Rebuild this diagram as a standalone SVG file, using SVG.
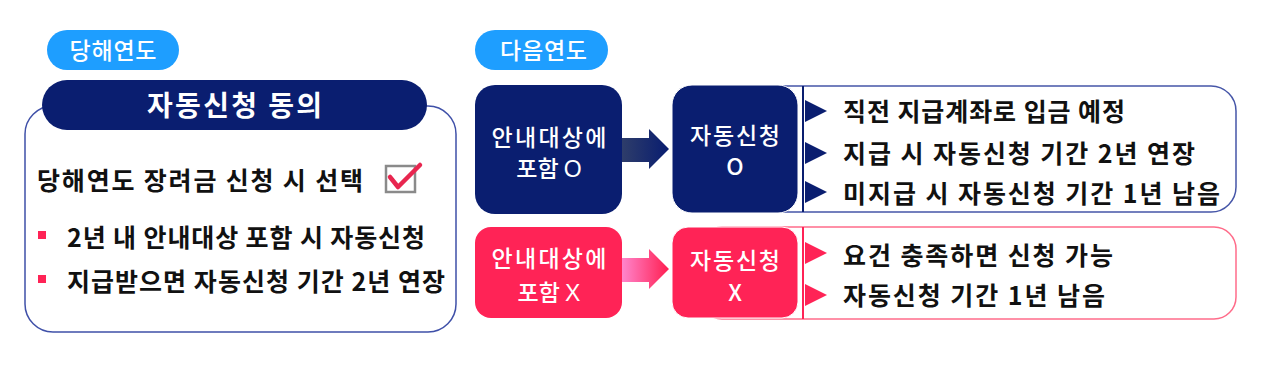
<svg xmlns="http://www.w3.org/2000/svg" width="1268" height="365" viewBox="0 0 1268 365">
<defs>
<style>
.t{font-family:"Noto Sans CJK KR","Noto Sans",sans-serif;}
.body{font-size:25px;font-weight:700;fill:#111;}
.wt{fill:#fff;font-size:23px;font-weight:500;text-anchor:middle;}
.pill{fill:#1E9EFF;}
.navy{fill:#0A1E70;}
.pink{fill:#FF2356;}
</style>
<linearGradient id="gN" x1="0" x2="1" y1="0" y2="0">
<stop offset="0" stop-color="#2E3D6A"/>
<stop offset="0.95" stop-color="#0A1E70"/>
</linearGradient>
<linearGradient id="gP" x1="0" x2="1" y1="0" y2="0">
<stop offset="0" stop-color="#FF85CC"/>
<stop offset="0.95" stop-color="#FF2356"/>
</linearGradient>
</defs>
<rect width="1268" height="365" fill="#fff"/>

<g id="left-label">
<rect class="pill" x="47" y="30" width="132" height="40" rx="20"/>
<text class="t wt" x="113" y="59" font-size="22" textLength="87">당해연도</text>
</g>

<g id="left-box">
<rect x="25" y="106" width="431" height="226" rx="28" fill="#fff" stroke="#3F50A8" stroke-width="1.5"/>
<rect class="navy" x="42" y="80" width="385" height="50" rx="25"/>
<text class="t" x="234.5" y="116" font-size="28" font-weight="700" fill="#fff" text-anchor="middle" textLength="175">자동신청 동의</text>
<text class="t body" x="37" y="190" textLength="326">당해연도  장려금 신청 시 선택</text>
<rect x="386" y="166" width="29" height="26" fill="none" stroke="#8A8A8A" stroke-width="2.5"/>
<polyline points="390,177 398,187 420,165" fill="none" stroke="#E8264F" stroke-width="4.5" stroke-linecap="round" stroke-linejoin="round"/>
<rect x="38" y="231" width="8" height="8" fill="#FF2356"/>
<text class="t body" x="67" y="247" textLength="358">2년 내 안내대상  포함 시 자동신청</text>
<rect x="38" y="275" width="8" height="8" fill="#FF2356"/>
<text class="t body" x="67" y="291" textLength="378">지급받으면  자동신청  기간 2년 연장</text>
</g>

<g id="right-label">
<rect class="pill" x="475" y="30" width="133" height="40" rx="20"/>
<text class="t wt" x="543.5" y="59" font-size="22" textLength="87">다음연도</text>
</g>

<g id="list-o">
<rect x="700" y="86" width="536" height="126" rx="25" fill="#fff" stroke="#4656A8" stroke-width="1.5"/>
<line x1="803" y1="86" x2="803" y2="212" stroke="#0A1E70" stroke-width="2"/>
<polygon class="navy" points="805,100 827,111 805,122"/>
<polygon class="navy" points="805,142 827,153 805,164"/>
<polygon class="navy" points="805,181 827,192 805,203"/>
<text class="t body" x="843" y="121" textLength="282">직전 지급계좌로  입금 예정</text>
<text class="t body" x="843" y="163" textLength="352">지급 시 자동신청  기간 2년 연장</text>
<text class="t body" x="843" y="203" textLength="377">미지급 시 자동신청  기간 1년 남음</text>
</g>

<g id="list-x">
<rect x="700" y="227" width="536" height="92" rx="22" fill="#fff" stroke="#FF6C8A" stroke-width="1.5"/>
<line x1="803" y1="227" x2="803" y2="319" stroke="#FF2356" stroke-width="2"/>
<polygon class="pink" points="805,242 827,253 805,264"/>
<polygon class="pink" points="805,284 827,295 805,306"/>
<text class="t body" x="843" y="265" textLength="270">요건 충족하면  신청 가능</text>
<text class="t body" x="843" y="305" textLength="262">자동신청  기간 1년 남음</text>
</g>

<g id="box-include-o">
<rect class="navy" x="475" y="85" width="147" height="129" rx="20"/>
<text class="t wt" x="549" y="146" textLength="115">안내대상에</text>
<text class="t wt" x="549" y="177">포함 <tspan font-family="Liberation Sans" font-weight="400">O</tspan></text>
</g>

<g id="box-auto-o">
<rect class="navy" x="672" y="85" width="126" height="128" rx="20" stroke="#fff" stroke-width="1"/>
<text class="t wt" x="735" y="144" textLength="90">자동신청</text>
<text class="t wt" x="735" y="175" font-family="Liberation Sans" font-weight="400">O</text>
</g>

<g id="box-include-x">
<rect class="pink" x="475" y="227" width="147" height="91" rx="16"/>
<text class="t wt" x="549" y="267" textLength="115">안내대상에</text>
<text class="t wt" x="549" y="301">포함 <tspan font-family="Liberation Sans" font-weight="400">X</tspan></text>
</g>

<g id="box-auto-x">
<rect class="pink" x="672" y="227" width="126" height="91" rx="16" stroke="#fff" stroke-width="1"/>
<text class="t wt" x="735" y="269" textLength="90">자동신청</text>
<text class="t wt" x="735" y="301" font-family="Liberation Sans" font-weight="400">X</text>
</g>

<g id="connectors">
<polygon fill="url(#gN)" points="622,138 649,138 649,129 669,149 649,169 649,162 622,162"/>
<polygon fill="url(#gP)" points="622,258 649,258 649,249 669,269 649,289 649,282 622,282"/>
</g>
</svg>
